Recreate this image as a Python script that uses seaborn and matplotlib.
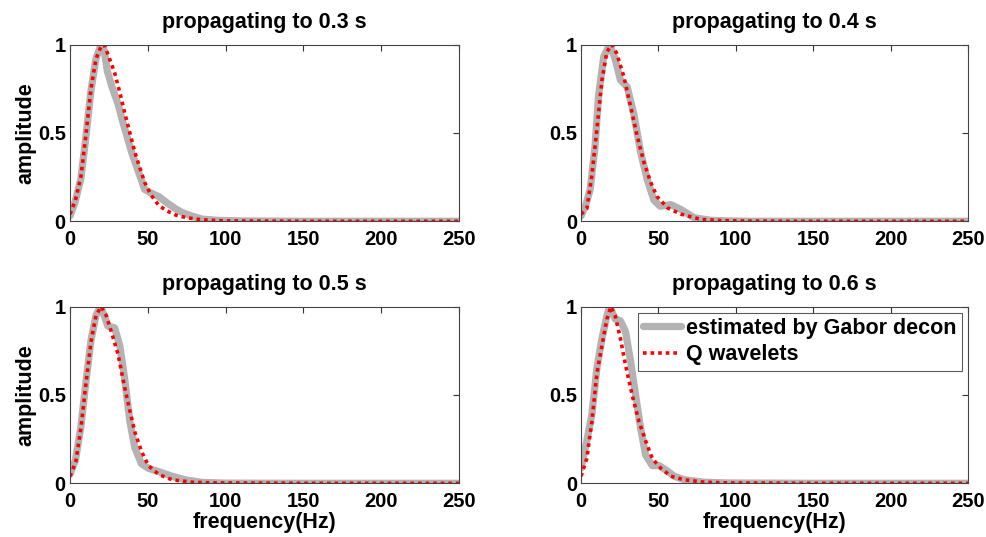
import numpy as np
import pandas as pd
import matplotlib
matplotlib.use("Agg")
import matplotlib.pyplot as plt
import seaborn as sns

# frequency samples (Hz) and amplitudes
titles = ["propagating to 0.3 s", "propagating to 0.4 s",
          "propagating to 0.5 s", "propagating to 0.6 s"]

gabor_f = [
    [0, 3, 7, 10, 13.5, 16.7, 20, 22, 24, 27, 31, 34, 37, 40, 44, 48, 52, 57, 63, 68, 72, 78, 85, 95, 110, 150, 200, 250],
    [0, 3, 5.9, 9, 11.3, 14.6, 18.5, 22, 25.4, 29.8, 34, 38.5, 42.6, 47, 51, 55, 58, 64.6, 73, 84, 95, 110, 150, 200, 250],
    [0, 3.5, 7, 10.2, 13.5, 16.7, 19.6, 22, 24.3, 28.7, 32, 35.2, 38.5, 41.7, 46, 50.4, 57, 65.6, 74, 85, 100, 150, 200, 250],
    [0, 3.7, 7, 10.2, 13.5, 16.7, 18.5, 22, 25.4, 28.7, 32, 35.2, 38.5, 41.7, 46, 50.4, 54.8, 60.2, 66.7, 79.8, 95, 150, 200, 250],
]
gabor_a = [
    [0.03, 0.10, 0.24, 0.46, 0.74, 0.92, 1.0, 0.97, 0.85, 0.76, 0.66, 0.56, 0.47, 0.38, 0.28, 0.18, 0.16, 0.14, 0.10, 0.07, 0.05, 0.03, 0.012, 0.005, 0.002, 0.0, 0.0, 0.0],
    [0.03, 0.09, 0.18, 0.42, 0.71, 0.93, 1.0, 0.92, 0.80, 0.76, 0.61, 0.39, 0.24, 0.12, 0.085, 0.09, 0.094, 0.066, 0.02, 0.005, 0.002, 0.0, 0.0, 0.0, 0.0],
    [0.05, 0.13, 0.32, 0.57, 0.81, 0.95, 1.0, 0.95, 0.89, 0.88, 0.78, 0.59, 0.35, 0.20, 0.11, 0.085, 0.066, 0.04, 0.02, 0.005, 0.001, 0.0, 0.0, 0.0],
    [0.085, 0.24, 0.39, 0.65, 0.82, 0.95, 1.0, 0.93, 0.92, 0.86, 0.69, 0.50, 0.31, 0.16, 0.10, 0.10, 0.075, 0.04, 0.02, 0.006, 0.002, 0.0, 0.0, 0.0],
]

q_f = [
    [0, 3.5, 7, 10, 13.5, 16.7, 20, 22, 25, 28.7, 32, 35, 38.5, 41.7, 45, 48, 52, 57, 62, 68, 75, 85, 100, 150, 200, 250],
    [0, 3.7, 7, 10.2, 13.5, 16.7, 20, 23, 27.6, 32, 36.3, 40.7, 45, 49, 56, 64.6, 77.6, 90, 110, 150, 200, 250],
    [0, 3.7, 7, 10.2, 13.5, 16.7, 20, 23.3, 26.5, 30.9, 35.2, 38.5, 41.7, 46, 50.4, 57, 65.6, 78.7, 95, 150, 200, 250],
    [0, 3.7, 7, 10.2, 13.5, 16.7, 19.3, 22, 25.4, 28.7, 33, 37.4, 41.7, 46, 51.5, 58, 66.7, 79.8, 95, 150, 200, 250],
]
q_a = [
    [0.04, 0.12, 0.25, 0.47, 0.75, 0.92, 0.99, 1.0, 0.93, 0.84, 0.73, 0.62, 0.50, 0.39, 0.30, 0.22, 0.15, 0.09, 0.06, 0.035, 0.02, 0.008, 0.002, 0.0, 0.0, 0.0],
    [0.04, 0.07, 0.26, 0.52, 0.80, 0.96, 1.0, 0.95, 0.82, 0.65, 0.48, 0.33, 0.22, 0.14, 0.075, 0.04, 0.01, 0.004, 0.001, 0.0, 0.0, 0.0],
    [0.04, 0.12, 0.31, 0.56, 0.80, 0.95, 1.0, 0.95, 0.86, 0.73, 0.54, 0.41, 0.29, 0.18, 0.10, 0.05, 0.02, 0.006, 0.002, 0.0, 0.0, 0.0],
    [0.04, 0.14, 0.35, 0.62, 0.78, 0.93, 1.0, 0.95, 0.82, 0.67, 0.50, 0.35, 0.24, 0.14, 0.085, 0.04, 0.02, 0.006, 0.002, 0.0, 0.0, 0.0],
]

xticks = [0, 50, 100, 150, 200, 250]
yticks = [0, 0.5, 1]
ytick_labels = ["0", "0.5", "1"]

sns.set_style("white")
plt.rcParams["font.family"] = ["Liberation Sans", "DejaVu Sans"]
plt.rcParams["font.weight"] = "bold"
plt.rcParams["text.color"] = "black"
plt.rcParams["axes.labelcolor"] = "black"

fig = plt.figure(figsize=(9.87, 5.37), dpi=100)

# axes rectangles in figure fractions (left, bottom, width, height)
rects = [
    (0.0709, 0.588, 0.3941, 0.329),
    (0.5887, 0.588, 0.3923, 0.329),
    (0.0709, 0.100, 0.3941, 0.329),
    (0.5887, 0.100, 0.3923, 0.329),
]

for i in range(4):
    ax = fig.add_axes(rects[i])
    sns.lineplot(x=gabor_f[i], y=gabor_a[i], ax=ax, color="#b3b3b3", linewidth=5.2,
                 label="estimated by Gabor decon", legend=False)
    sns.lineplot(x=q_f[i], y=q_a[i], ax=ax, color="red", linewidth=2.6,
                 linestyle=(0, (1, 1.1)), label="Q wavelets", legend=False)
    ax.set_xlim(0, 250)
    ax.set_ylim(0, 1)
    ax.set_xticks(xticks)
    ax.set_yticks(yticks)
    ax.set_yticklabels(ytick_labels)
    ax.tick_params(direction="in", length=4, labelsize=14.5, pad=3,
                   top=True, right=True, color="#333333", labelcolor="black")
    ax.tick_params(axis="x", pad=6)
    for lab in ax.get_xticklabels() + ax.get_yticklabels():
        lab.set_fontweight("bold")
    for sp in ax.spines.values():
        sp.set_color("#444444")
        sp.set_linewidth(0.8)
    ax.set_title(titles[i], fontsize=15.5, fontweight="bold", pad=12, color="black")
    if i % 2 == 0:
        ax.set_ylabel("amplitude", fontsize=15.5, fontweight="bold", labelpad=1)
    else:
        ax.set_ylabel("")
    if i >= 2:
        ax.set_xlabel("frequency(Hz)", fontsize=15.5, fontweight="bold", labelpad=1)
    else:
        ax.set_xlabel("")
    if i == 3:
        leg = ax.legend(loc="upper right", bbox_to_anchor=(0.984, 0.966), fontsize=15.5,
                        frameon=True, fancybox=False, borderpad=0.25, borderaxespad=0.0,
                        handlelength=1.75, handletextpad=0.25, labelspacing=0.25)
        leg.get_frame().set_edgecolor("#333333")
        leg.get_frame().set_linewidth(0.8)
        for t in leg.get_texts():
            t.set_fontweight("bold")
            t.set_color("black")

fig.savefig("out.png", dpi=100)
